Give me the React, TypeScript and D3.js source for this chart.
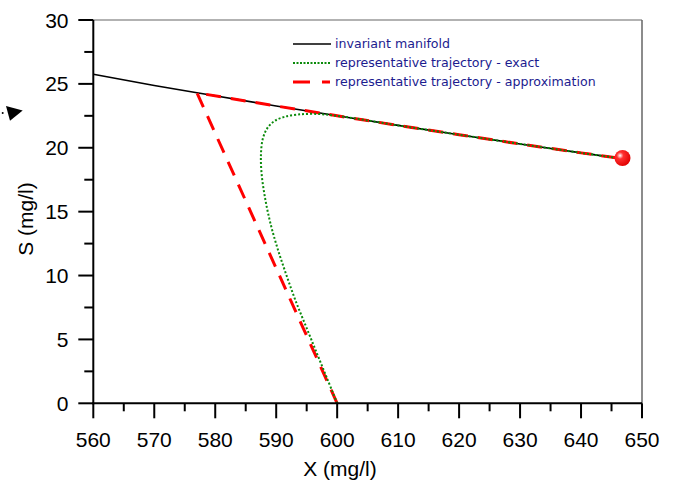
import React from "react";
import * as d3 from "d3";

const W = 676;
const H = 484;

// invariant manifold
const manifoldX = [560, 570, 577, 590, 600, 610, 620, 630, 640, 646.7];
const manifoldS = [25.75, 24.88, 24.3, 23.27, 22.5, 21.75, 21.02, 20.3, 19.6, 19.15];

// representative trajectory - exact
const exactX = [600, 598.3, 596.6, 594.9, 593.2, 591.7, 590.3, 589.1, 588.2, 587.6, 587.5, 587.8, 588.5, 589.6, 591.2, 593.5, 596.5, 600, 610, 620, 630, 640, 646.7];
const exactS = [0, 2, 4, 6, 8, 10, 12, 14, 16, 18, 19.5, 20.7, 21.5, 22.05, 22.4, 22.6, 22.65, 22.5, 21.75, 21.02, 20.3, 19.6, 19.15];

// representative trajectory - approximation
const approxX = [600, 577, 590, 600, 610, 620, 630, 640, 646.7];
const approxS = [0, 24.3, 23.27, 22.5, 21.75, 21.02, 20.3, 19.6, 19.15];

// equilibrium point
const eqX = 646.8;
const eqS = 19.2;

const xTicks = [560, 570, 580, 590, 600, 610, 620, 630, 640, 650];
const xMinor = [565, 575, 585, 595, 605, 615, 625, 635, 645];
const yTicks = [0, 5, 10, 15, 20, 25, 30];
const yMinor = [2.5, 7.5, 12.5, 17.5, 22.5, 27.5];

const legendLabels = [
  "invariant manifold",
  "representative trajectory - exact",
  "representative trajectory - approximation",
];

export default function App() {
  const x = d3.scaleLinear().domain([560, 650]).range([93.3, 642]);
  const y = d3.scaleLinear().domain([0, 30]).range([403.3, 20]);

  const line = (xs: number[], ys: number[]) =>
    d3
      .line<number>()
      .x((_, i) => x(xs[i]))
      .y((_, i) => y(ys[i]))
      .curve(d3.curveLinear)(xs) as string;

  const lineSmooth = (xs: number[], ys: number[]) =>
    d3
      .line<number>()
      .x((_, i) => x(xs[i]))
      .y((_, i) => y(ys[i]))
      .curve(d3.curveCatmullRom.alpha(0.5))(xs) as string;

  const font = "'Liberation Sans', Arial, sans-serif";
  const x0 = x(560);
  const x1 = x(650);
  const y0 = y(0);
  const y1 = y(30);

  return (
    <svg
      width={W}
      height={H}
      style={{ position: "absolute", left: 0, top: 0, background: "#fff" }}
    >
      <defs>
        <radialGradient id="ball" cx="0.35" cy="0.35" r="0.7">
          <stop offset="0" stopColor="#ffffff" />
          <stop offset="0.3" stopColor="#ff3030" />
          <stop offset="1" stopColor="#e00000" />
        </radialGradient>
      </defs>

      {/* frame top/right */}
      <line x1={x0} y1={y1} x2={x1} y2={y1} stroke="#666" strokeWidth={1.2} />
      <line x1={x1} y1={y1} x2={x1} y2={y0} stroke="#666" strokeWidth={1.5} />

      {/* curves */}
      <path d={line(manifoldX, manifoldS)} fill="none" stroke="#000" strokeWidth={1.6} />
      <path
        d={line(approxX, approxS)}
        fill="none"
        stroke="#ff0000"
        strokeWidth={3}
        strokeDasharray="15,10"
      />
      <path
        d={lineSmooth(exactX, exactS)}
        fill="none"
        stroke="#0a8a0a"
        strokeWidth={2}
        strokeDasharray="2,2"
      />
      <circle cx={x(eqX)} cy={y(eqS)} r={8} fill="url(#ball)" />

      {/* y axis */}
      <line x1={x0} y1={y0 + 1} x2={x0} y2={y1} stroke="#000" strokeWidth={2} />
      {yTicks.map((t) => (
        <g key={"y" + t}>
          <line x1={x0 - 15} x2={x0} y1={y(t)} y2={y(t)} stroke="#000" strokeWidth={2} />
          <text
            x={68.5}
            y={y(t)}
            dy="0.36em"
            textAnchor="end"
            fontFamily={font}
            fontSize={21}
            fill="#000"
          >
            {t}
          </text>
        </g>
      ))}
      {yMinor.map((t) => (
        <line key={"ym" + t} x1={x0 - 9} x2={x0} y1={y(t)} y2={y(t)} stroke="#000" strokeWidth={2} />
      ))}

      {/* x axis */}
      <line x1={x0 - 1} y1={y0} x2={x1} y2={y0} stroke="#000" strokeWidth={2} />
      {xTicks.map((t) => (
        <g key={"x" + t}>
          <line x1={x(t)} x2={x(t)} y1={y0} y2={y0 + 15} stroke="#000" strokeWidth={2} />
          <text
            x={x(t)}
            y={446.7}
            textAnchor="middle"
            fontFamily={font}
            fontSize={21}
            fill="#000"
          >
            {t}
          </text>
        </g>
      ))}
      {xMinor.map((t) => (
        <line key={"xm" + t} x1={x(t)} x2={x(t)} y1={y0} y2={y0 + 8} stroke="#000" strokeWidth={2} />
      ))}

      {/* axis titles */}
      <text
        x={340}
        y={476}
        textAnchor="middle"
        fontFamily={font}
        fontSize={21}
        fill="#000"
      >
        X (mg/l)
      </text>
      <text
        transform={`translate(33,219) rotate(-90)`}
        textAnchor="middle"
        fontFamily={font}
        fontSize={21}
        fill="#000"
      >
        S (mg/l)
      </text>

      {/* legend */}
      <g fontFamily="'DejaVu Sans', Verdana, sans-serif" fontSize={12.6} fill="#1c1c8f">
        <line x1={293} x2={331} y1={44} y2={44} stroke="#000" strokeWidth={1.6} />
        <line x1={293} x2={331} y1={63} y2={63} stroke="#0a8a0a" strokeWidth={2} strokeDasharray="2,1.5" />
        <line x1={293} x2={331} y1={82} y2={82} stroke="#ff0000" strokeWidth={3} strokeDasharray="17,12,8,20" />
        {legendLabels.map((l, i) => (
          <text key={l} x={335} y={44 + i * 19} dy="0.35em">
            {l}
          </text>
        ))}
      </g>

      {/* stray arrow marker */}
      <path d="M6,106 L22.7,110.5 L10,120.7 Z" fill="#000" />
      <circle cx={2.7} cy={113} r={1} fill="#000" />
    </svg>
  );
}
